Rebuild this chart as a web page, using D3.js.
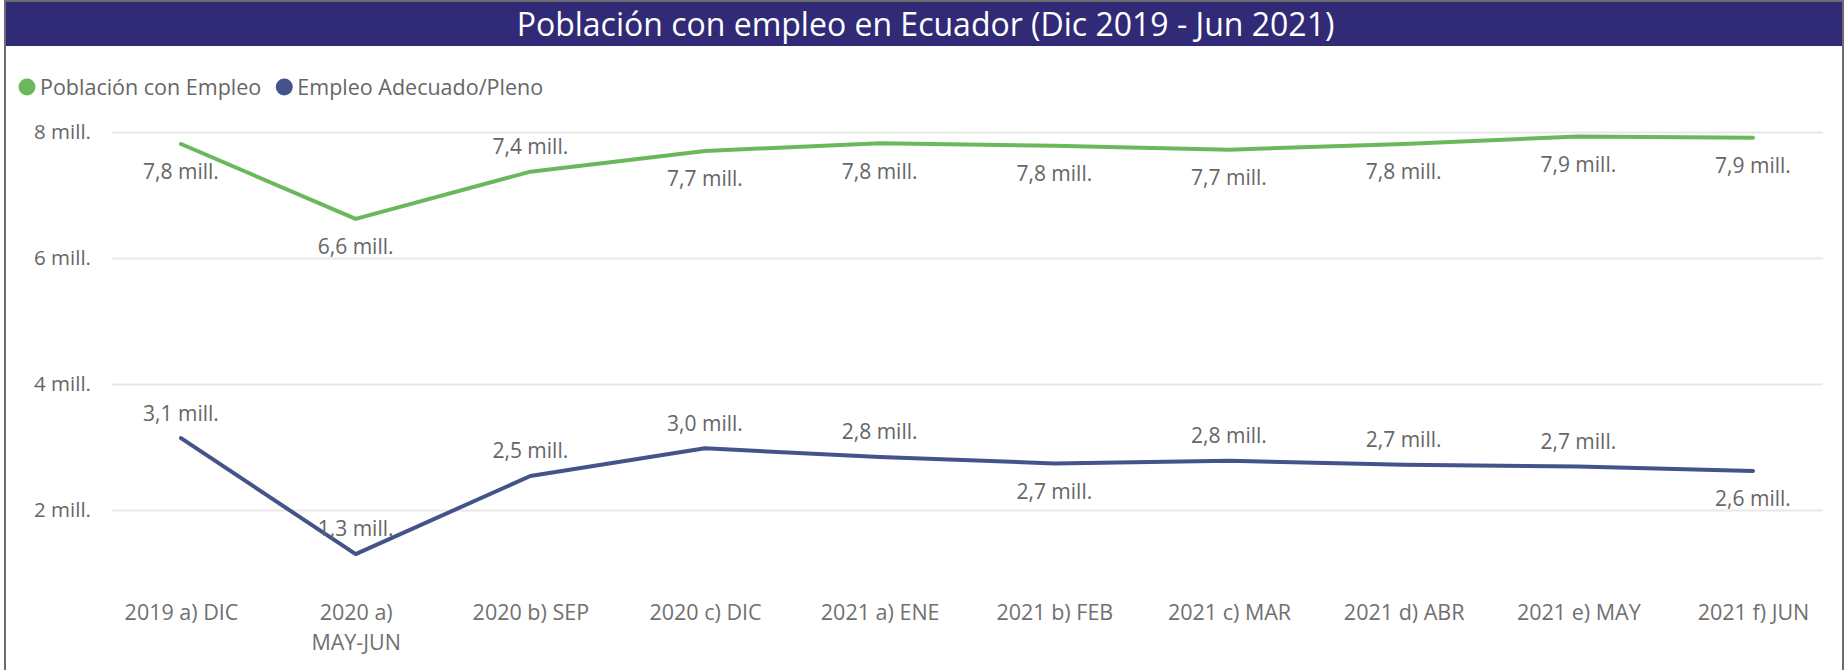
<!DOCTYPE html>
<html>
<head>
<meta charset="utf-8">
<script src="https://cdn.jsdelivr.net/npm/d3@7"></script>
<style>
  body { margin: 0; background: #fff; }
  svg text { font-family: "Open Sans", "Noto Sans", sans-serif; }
</style>
</head>
<body>
<div id="chart"></div>
<script>
// data
const categories = ["2019 a) DIC", "2020 a) MAY-JUN", "2020 b) SEP", "2020 c) DIC", "2021 a) ENE",
  "2021 b) FEB", "2021 c) MAR", "2021 d) ABR", "2021 e) MAY", "2021 f) JUN"];
const poblacionEmpleo = [7.81, 6.62, 7.37, 7.70, 7.82, 7.78, 7.72, 7.81, 7.93, 7.91];
const empleoAdecuado = [3.14, 1.30, 2.54, 2.98, 2.84, 2.74, 2.78, 2.72, 2.69, 2.62];
// where each data label sits relative to its point
const poblacionLabelPos = ["below", "below", "above", "below", "below", "below", "below", "below", "below", "below"];
const adecuadoLabelPos = ["above", "above", "above", "above", "above", "below", "above", "above", "above", "below"];
const yTicks = [2, 4, 6, 8];
const seriesNames = ["Población con Empleo", "Empleo Adecuado/Pleno"];
const titleText = "Población con empleo en Ecuador (Dic 2019 - Jun 2021)";

const W = 1845, H = 670;
const green = "#6ab85c", blue = "#44538a", textGray = "#666";

const svg = d3.select("#chart").append("svg")
  .attr("width", W)
  .attr("height", H);

// frame + title bar
svg.append("rect")
  .attr("x", 5).attr("y", 1)
  .attr("width", W - 7).attr("height", H + 5)
  .attr("fill", "#fff")
  .attr("stroke", "#6b6b6b")
  .attr("stroke-width", 2);

svg.append("rect")
  .attr("x", 6).attr("y", 2)
  .attr("width", W - 9).attr("height", 44)
  .attr("fill", "#302a77");

svg.append("text")
  .attr("x", W / 2 + 3)
  .attr("y", 24)
  .attr("dy", "0.36em")
  .attr("text-anchor", "middle")
  .attr("fill", "#fff")
  .style("font-size", "32px")
  .text(titleText);

// scales
const x = d3.scalePoint().domain(categories).range([181, 1753]);
const y = d3.scaleLinear().domain([2, 8]).range([510, 132]);

// gridlines
svg.append("g")
  .attr("class", "grid")
  .attr("transform", "translate(112,0)")
  .call(d3.axisLeft(y).tickValues(yTicks).tickSize(-(1823 - 112)).tickFormat(""))
  .call(g => g.select(".domain").remove())
  .call(g => g.selectAll("line").attr("stroke", "#e8e8e8").attr("stroke-width", 2));

// y axis labels
svg.append("g")
  .attr("class", "y axis")
  .attr("transform", "translate(112,0)")
  .call(d3.axisLeft(y).tickValues(yTicks).tickSize(0).tickPadding(21).tickFormat(d => d + " mill."))
  .call(g => g.select(".domain").remove())
  .call(g => g.selectAll("text")
    .attr("fill", textGray)
    .style("font-size", "20.5px")
    .style("font-family", "'Open Sans', sans-serif"));

// x axis labels (wrapped)
const xAxis = svg.append("g")
  .attr("class", "x axis")
  .attr("transform", "translate(0,600)")
  .call(d3.axisBottom(x).tickSize(0).tickPadding(0))
  .call(g => g.select(".domain").remove());

xAxis.selectAll("text")
  .attr("fill", "#707070")
  .style("font-size", "21.5px")
  .style("font-family", "'Open Sans', sans-serif")
  .each(function (d) {
    const t = d3.select(this);
    const words = d.split(" ");
    t.text(null);
    let lines = [], line = [];
    const probe = t.append("tspan");
    words.forEach(w => {
      line.push(w);
      probe.text(line.join(" "));
      if (probe.node().getComputedTextLength() > 150 && line.length > 1) {
        line.pop();
        lines.push(line.join(" "));
        line = [w];
      }
    });
    lines.push(line.join(" "));
    probe.remove();
    t.attr("y", 0).attr("dy", null);
    lines.forEach((l, i) => {
      t.append("tspan")
        .attr("x", 0)
        .attr("y", 13 + i * 30)
        .attr("dy", "0.32em")
        .text(l);
    });
  });

// lines
const line = d3.line()
  .x((d, i) => x(categories[i]))
  .y(d => y(d));

function drawSeries(values, color, labelPos) {
  svg.append("path")
    .datum(values)
    .attr("fill", "none")
    .attr("stroke", color)
    .attr("stroke-width", 4)
    .attr("stroke-linejoin", "round")
    .attr("stroke-linecap", "round")
    .attr("d", line);

  svg.append("g")
    .selectAll("text")
    .data(values)
    .join("text")
    .attr("x", (d, i) => x(categories[i]))
    .attr("y", (d, i) => y(d) + (labelPos[i] === "above" ? -25 : 28))
    .attr("dy", "0.35em")
    .attr("text-anchor", "middle")
    .attr("fill", textGray)
    .style("font-size", "21px")
    .text(d => d3.format(".1f")(d).replace(".", ",") + " mill.");
}

drawSeries(poblacionEmpleo, green, poblacionLabelPos);
drawSeries(empleoAdecuado, blue, adecuadoLabelPos);

// legend
const legend = svg.append("g").attr("transform", "translate(18,87)");
let lx = 0;
[green, blue].forEach((c, i) => {
  legend.append("circle")
    .attr("cx", lx + 9).attr("cy", 0).attr("r", 8.5)
    .attr("fill", c);
  const t = legend.append("text")
    .attr("x", lx + 22).attr("y", 0)
    .attr("dy", "0.35em")
    .attr("fill", textGray)
    .style("font-size", "21.5px")
    .text(seriesNames[i]);
  lx += 22 + t.node().getComputedTextLength() + 14;
});
</script>
</body>
</html>
